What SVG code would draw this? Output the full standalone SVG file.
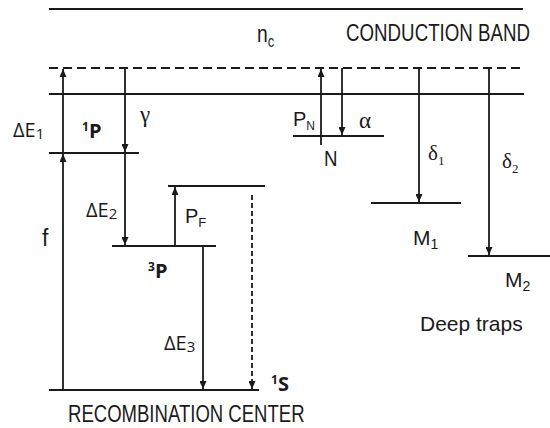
<svg xmlns="http://www.w3.org/2000/svg" width="550" height="428" viewBox="0 0 550 428">
<defs>
<style>
.lv{stroke:#1a1a1a;stroke-width:2.2;fill:none}
.dash{stroke-dasharray:9,5}
.cn{stroke:#1a1a1a;stroke-width:1.8;fill:none;marker-end:url(#ah)}
.dd{stroke-dasharray:5,3}
.ar{font-family:"Liberation Sans",Arial,sans-serif;fill:#1a1a1a}
.os{font-family:"Open Sans","Noto Sans",sans-serif;fill:#1a1a1a}
.b{font-weight:bold}
.gr{font-family:"Liberation Serif","Times New Roman",serif;fill:#1a1a1a}
</style>
<marker id="ah" viewBox="0 0 8 7" markerWidth="8" markerHeight="7" refX="8" refY="3.5" orient="auto" markerUnits="userSpaceOnUse">
<path d="M0,0 L8,3.5 L0,7 z" fill="#1a1a1a"/>
</marker>
</defs>
<rect width="550" height="428" fill="#ffffff"/>

<g id="conduction-band">
<line class="lv" x1="49" y1="9" x2="523" y2="9"/>
<text class="ar" transform="translate(257,42) scale(0.8,1)"><tspan font-size="24">n</tspan><tspan font-size="16" dy="5">c</tspan></text>
<text class="ar" transform="translate(346,41) scale(0.814,1)" font-size="23">CONDUCTION BAND</text>
</g>

<g id="dashed-level">
<line class="lv dash" x1="49" y1="68" x2="524" y2="68"/>
</g>

<g id="band-edge">
<line class="lv" x1="49" y1="94" x2="524" y2="94"/>
</g>

<g id="level-1P">
<line class="lv" x1="49" y1="153" x2="139" y2="153"/>
<text class="os b" x="82" y="138"><tspan font-size="12" dy="-7">1</tspan><tspan font-size="20" dy="7">P</tspan></text>
</g>

<g id="level-F">
<line class="lv" x1="168" y1="186" x2="265" y2="186"/>
</g>

<g id="level-3P">
<line class="lv" x1="112" y1="246" x2="216" y2="246"/>
<text class="os b" x="148" y="278"><tspan font-size="12" dy="-7">3</tspan><tspan font-size="20" dy="7">P</tspan></text>
</g>

<g id="level-1S">
<line class="lv" x1="49" y1="390" x2="259" y2="390"/>
<text class="os b" x="271" y="391"><tspan font-size="12" dy="-7">1</tspan><tspan font-size="20" dy="7">S</tspan></text>
<text class="ar" transform="translate(68,422) scale(0.807,1)" font-size="23">RECOMBINATION CENTER</text>
</g>

<g id="level-N">
<line class="lv" x1="293" y1="136" x2="384" y2="136"/>
<text class="ar" transform="translate(324,166) scale(0.85,1)" font-size="22">N</text>
</g>

<g id="level-M1">
<line class="lv" x1="371" y1="203" x2="461" y2="203"/>
<text class="ar" x="413" y="245"><tspan font-size="21">M</tspan><tspan font-size="14" dy="4">1</tspan></text>
</g>

<g id="level-M2">
<line class="lv" x1="468" y1="256" x2="550" y2="256"/>
<text class="ar" x="505" y="287"><tspan font-size="21">M</tspan><tspan font-size="14" dy="4">2</tspan></text>
<text class="ar" x="420" y="331" font-size="21">Deep traps</text>
</g>

<g id="connectors">
<line class="cn" x1="63" y1="390" x2="63" y2="154"/>
<line class="cn" x1="63" y1="153" x2="63" y2="69"/>
<line class="cn" x1="125" y1="68" x2="125" y2="152"/>
<line class="cn" x1="125" y1="153" x2="125" y2="245"/>
<line class="cn" x1="175" y1="246" x2="175" y2="187"/>
<line class="cn" x1="203" y1="246" x2="203" y2="389"/>
<line class="cn dd" x1="252" y1="195" x2="252" y2="389"/>
<line class="cn" x1="321" y1="145" x2="321" y2="69"/>
<line class="cn" x1="342" y1="68" x2="342" y2="135"/>
<line class="cn" x1="419" y1="68" x2="419" y2="202"/>
<line class="cn" x1="489" y1="68" x2="489" y2="255"/>
</g>

<g id="connector-labels">
<text class="os" x="13" y="137"><tspan font-size="20">ΔE</tspan><tspan font-size="15" dy="2">1</tspan></text>
<text class="ar" x="42" y="246" font-size="23">f</text>
<text class="gr" x="140" y="122" font-size="23">γ</text>
<text class="os" x="86" y="217"><tspan font-size="20">ΔE</tspan><tspan font-size="15" dy="2">2</tspan></text>
<text class="ar" x="185" y="223"><tspan font-size="20">P</tspan><tspan font-size="13" dy="4">F</tspan></text>
<text class="os" x="164" y="350"><tspan font-size="20">ΔE</tspan><tspan font-size="15" dy="2">3</tspan></text>
<text class="ar" x="293" y="126"><tspan font-size="20">P</tspan><tspan font-size="12" dy="4">N</tspan></text>
<text class="gr" x="359" y="128" font-size="23">α</text>
<text class="gr" x="428" y="160"><tspan font-size="21">δ</tspan><tspan font-size="13" dy="5">1</tspan></text>
<text class="gr" x="502" y="168"><tspan font-size="21">δ</tspan><tspan font-size="13" dy="5">2</tspan></text>
</g>
</svg>
